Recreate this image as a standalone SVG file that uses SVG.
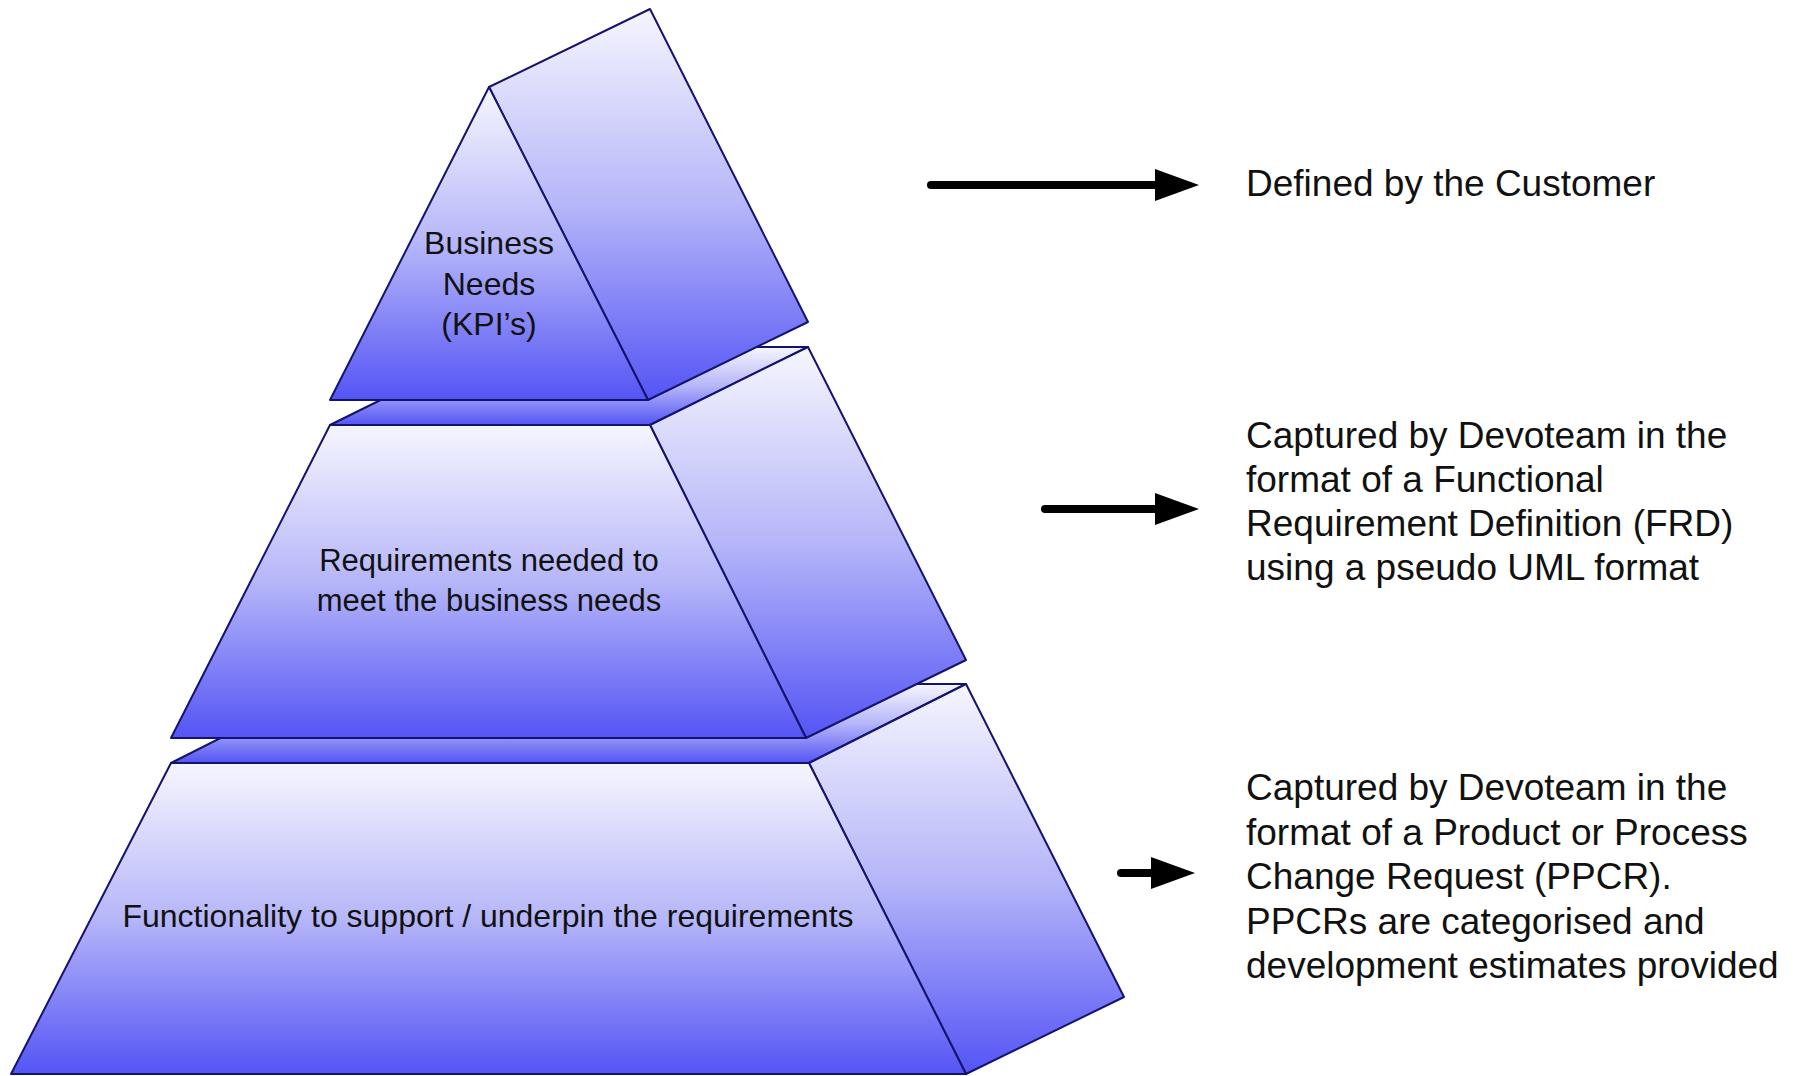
<svg xmlns="http://www.w3.org/2000/svg" width="1793" height="1076" viewBox="0 0 1793 1076">
  <defs>
    <linearGradient id="face" x1="0" y1="0" x2="0" y2="1">
      <stop offset="0" stop-color="#f6f6fe"/>
      <stop offset="0.5" stop-color="#b6b6f9"/>
      <stop offset="1" stop-color="#5454f5"/>
    </linearGradient>
    <marker id="head" markerUnits="userSpaceOnUse" viewBox="0 0 44 32" markerWidth="44" markerHeight="32" refX="0" refY="16" orient="auto">
      <path d="M0,0 L44,16 L0,32 Z" fill="#000"/>
    </marker>
    <style>
      .f { fill: url(#face); stroke: #14146e; stroke-width: 2; stroke-linejoin: round; }
      .t { font-family: "Liberation Sans", Arial, sans-serif; fill: #111; }
      .p { font-size: 32px; text-anchor: middle; }
      .r { font-size: 37px; }
      .a { stroke: #000; stroke-width: 8; stroke-linecap: round; marker-end: url(#head); }
    </style>
  </defs>
  <rect width="1793" height="1076" fill="#fff"/>

  <g id="level-bottom">
    <polygon class="f" points="171,763 809,763 966,684 328,684"/>
    <polygon class="f" points="809,763 966,684 1124,997 966,1074"/>
    <polygon class="f" points="171,763 809,763 966,1074 11,1074"/>
    <text class="t p" x="488" y="927">Functionality to support / underpin the requirements</text>
  </g>

  <g id="level-middle">
    <polygon class="f" points="330,425 650,425 808,347 488,347"/>
    <polygon class="f" points="650,425 808,347 966,660 806,738"/>
    <polygon class="f" points="330,425 650,425 806,738 171,738"/>
    <text class="t p" x="489" y="571" style="font-size:31px">Requirements needed to</text>
    <text class="t p" x="489" y="611" style="font-size:31px">meet the business needs</text>
  </g>

  <g id="level-top">
    <polygon class="f" points="489,87 650,9 808,322 648,400"/>
    <polygon class="f" points="489,87 648,400 330,400"/>
    <text class="t p" x="489" y="254">Business</text>
    <text class="t p" x="489" y="295">Needs</text>
    <text class="t p" x="489" y="335">(KPI’s)</text>
  </g>

  <g id="connectors">
    <line class="a" x1="931" y1="185" x2="1155" y2="185"/>
    <line class="a" x1="1045" y1="509" x2="1155" y2="509"/>
    <line class="a" x1="1121" y1="873" x2="1151" y2="873"/>
  </g>

  <g id="label-top">
    <text class="t r" x="1246" y="196">Defined by the Customer</text>
  </g>
  <g id="label-middle">
    <text class="t r" x="1246" y="448">Captured by Devoteam in the</text>
    <text class="t r" x="1246" y="492">format of a Functional</text>
    <text class="t r" x="1246" y="536">Requirement Definition (FRD)</text>
    <text class="t r" x="1246" y="580">using a pseudo UML format</text>
  </g>
  <g id="label-bottom">
    <text class="t r" x="1246" y="800">Captured by Devoteam in the</text>
    <text class="t r" x="1246" y="845">format of a Product or Process</text>
    <text class="t r" x="1246" y="889">Change Request (PPCR).</text>
    <text class="t r" x="1246" y="934">PPCRs are categorised and</text>
    <text class="t r" x="1246" y="978">development estimates provided</text>
  </g>
</svg>
